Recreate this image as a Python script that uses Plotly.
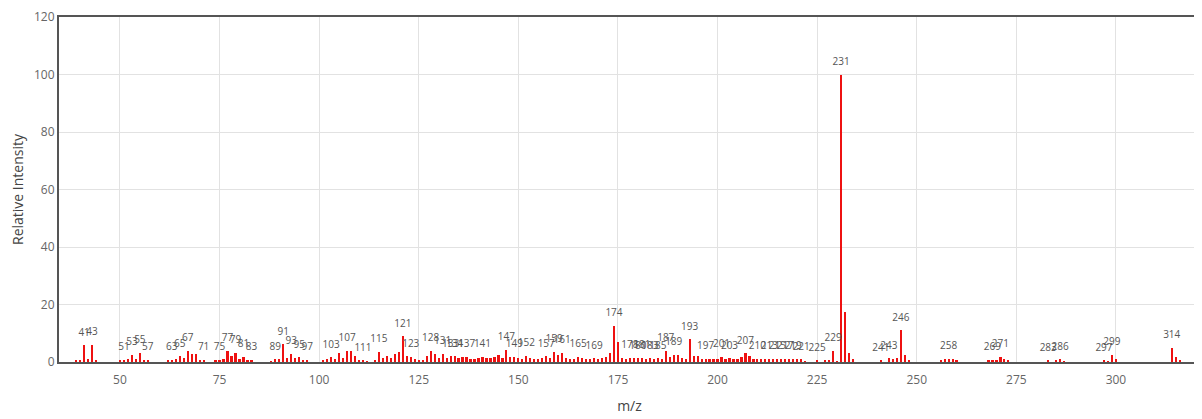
import plotly.graph_objects as go

mz = [39, 40, 41, 42, 43, 44,
      50, 51, 52, 53, 54, 55, 56, 57,
      62, 63, 64, 65, 66, 67, 68, 69, 70, 71,
      74, 75, 76, 77, 78, 79, 80, 81, 82, 83,
      88, 89, 90, 91, 92, 93, 94, 95, 96, 97,
      101, 102, 103, 104, 105, 106, 107, 108, 109, 110, 111, 112,
      114, 115, 116, 117, 118, 119, 120, 121, 122, 123, 124, 125,
      126, 127, 128, 129, 130, 131, 132, 133, 134, 135, 136, 137, 138, 139, 140,
      141, 142, 143, 144, 145, 146, 147, 148, 149, 150, 151, 152, 153, 154, 155,
      156, 157, 158, 159, 160, 161, 162, 163, 164, 165, 166, 167, 168, 169, 170,
      171, 172, 173, 174, 175, 176, 177, 178, 179, 180, 181, 182, 183, 184, 185,
      186, 187, 188, 189, 190, 191, 192, 193, 194, 195, 196, 197, 198, 199, 200,
      201, 202, 203, 204, 205, 206, 207, 208, 209, 210, 211, 212, 213, 214, 215,
      216, 217, 218, 219, 220, 221, 222, 225, 227, 228, 229, 230, 231, 232, 233, 234,
      241, 243, 244, 245, 246, 247, 248,
      256, 257, 258, 259, 260,
      268, 269, 270, 271, 272, 273,
      283, 285, 286, 287,
      297, 298, 299, 300,
      314, 315, 316]

intensity = [0.8, 0.5, 5.8, 1.0, 6.0, 0.8,
             0.5, 0.8, 1.2, 2.6, 1.0, 3.3, 0.8, 0.8,
             0.5, 0.8, 0.9, 2.0, 1.3, 4.0, 2.8, 2.8, 0.8, 0.8,
             0.4, 0.8, 1.0, 3.8, 2.0, 3.2, 1.2, 1.7, 0.8, 0.8,
             0.3, 0.9, 0.9, 6.1, 1.3, 2.8, 1.3, 1.6, 0.8, 0.7,
             0.6, 1.0, 1.6, 1.2, 3.0, 1.3, 4.0, 3.8, 2.2, 0.8, 0.5, 0.3,
             0.4, 3.5, 1.3, 2.0, 1.3, 2.8, 3.5, 8.9, 2.0, 1.9, 1.2, 0.4,
             0.8, 2.0, 3.8, 2.8, 1.3, 2.8, 1.5, 2.0, 2.0, 1.5, 1.6, 1.9, 1.2, 1.0, 1.3,
             1.9, 1.5, 1.5, 1.9, 2.4, 1.5, 4.1, 1.8, 1.9, 1.3, 1.0, 2.1, 1.5, 1.2, 1.0,
             1.5, 2.0, 1.5, 3.4, 2.5, 3.2, 1.4, 1.1, 1.2, 1.8, 1.3, 1.0, 1.2, 1.3, 1.2,
             1.5, 1.6, 3.0, 12.6, 6.8, 1.5, 1.2, 1.4, 1.3, 1.3, 1.4, 1.2, 1.3, 1.2, 1.3,
             1.2, 3.8, 1.8, 2.4, 2.4, 1.3, 1.0, 7.9, 2.0, 2.0, 1.2, 1.2, 1.0, 1.0, 1.2,
             1.7, 1.2, 1.3, 1.1, 1.0, 1.8, 3.0, 2.0, 1.2, 1.0, 0.9, 0.9, 1.1, 0.9, 1.1,
             0.9, 1.1, 0.9, 1.1, 0.9, 0.9, 0.3, 0.5, 0.8, 0.8, 4.0, 0.3, 100.0, 17.3, 3.2, 1.0,
             0.6, 1.3, 1.0, 1.3, 11.0, 2.3, 0.8,
             0.5, 1.0, 1.2, 1.2, 0.8,
             0.5, 0.8, 0.8, 1.8, 1.0, 0.6,
             0.5, 0.7, 0.9, 0.3,
             0.5, 0.3, 2.4, 1.0,
             5.0, 1.6, 0.8]

labeled_mz = [41, 43, 51, 53, 55, 57, 63, 65, 67, 71, 75, 77, 79, 81, 83, 89, 91, 93, 95, 97,
              103, 107, 111, 115, 121, 123, 128, 131, 133, 134, 137, 141, 147, 149, 152, 157,
              159, 161, 165, 169, 174, 178, 180, 181, 183, 185, 187, 189, 193, 197, 201, 203,
              207, 210, 213, 215, 217, 219, 221, 225, 229, 231, 241, 243, 246, 258, 269, 271,
              283, 286, 297, 299, 314]

x_ticks = [50, 75, 100, 125, 150, 175, 200, 225, 250, 275, 300]
y_ticks = [0, 20, 40, 60, 80, 100, 120]

lookup = dict(zip(mz, intensity))
label_y = [lookup[m] for m in labeled_mz]
label_text = [str(m) for m in labeled_mz]

fig = go.Figure()
fig.add_trace(go.Bar(x=mz, y=intensity, width=0.55, marker_color="#ee1111",
                     marker_line_width=0, showlegend=False, hoverinfo="x+y"))
fig.add_trace(go.Scatter(x=labeled_mz, y=label_y, mode="markers+text", text=label_text,
                         textposition="top center",
                         marker=dict(size=10, opacity=0),
                         textfont=dict(size=10, color="#555", family="Open Sans, Arial, sans-serif"),
                         showlegend=False, cliponaxis=False, hoverinfo="skip"))

fig.update_layout(
    width=1194, height=411,
    margin=dict(l=51, r=2, t=9, b=57, autoexpand=False),
    plot_bgcolor="white", paper_bgcolor="white",
    font=dict(family="Open Sans, Arial, sans-serif", color="#444"),
    bargap=0,
)
fig.update_xaxes(range=[34.7, 321.1], tickvals=x_ticks, ticktext=[str(v) for v in x_ticks],
                 automargin=False,
                 showline=True, linecolor="#555", linewidth=2, mirror=True,
                 ticks="outside", ticklen=6, tickcolor="rgba(0,0,0,0)",
                 showgrid=True, gridcolor="#e2e2e2", zeroline=False,
                 tickfont=dict(size=12, color="#666"),
                 title=dict(text="m/z", font=dict(size=14, color="#444"), standoff=14))
fig.update_yaxes(range=[0, 120], tickvals=y_ticks, ticktext=[str(v) for v in y_ticks],
                 automargin=False, ticklabeloverflow="allow",
                 showline=True, linecolor="#555", linewidth=2, mirror=True,
                 showgrid=True, gridcolor="#e2e2e2", zeroline=False,
                 tickfont=dict(size=12, color="#666"),
                 title=dict(text="Relative Intensity", font=dict(size=14, color="#444"), standoff=8))

fig.write_html("out.html")
